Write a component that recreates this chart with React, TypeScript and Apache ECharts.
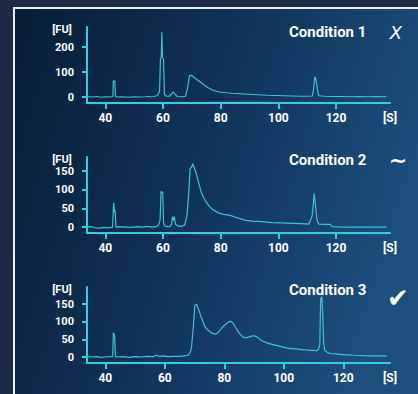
import React, { useEffect, useRef } from "react";
import * as echarts from "echarts";

// ---- Data (time in seconds, fluorescence units) ----
const cond1Time = [33.8, 35.5, 37, 38.5, 40, 41.5, 42.6, 42.8, 43.3, 43.5, 44.5, 46, 48, 50, 52, 54, 54.5, 55.5, 57, 58, 58.8, 59.1, 59.4, 59.6, 59.8, 60.2, 60.5, 61.2, 62.2, 63.0, 63.6, 64.2, 65, 66.5, 67.8, 68.5, 69.2, 69.8, 70.4, 71.5, 72.7, 74, 75.5, 77.3, 79.6, 82, 84, 87, 90, 93, 96, 99, 102, 105, 108, 110.5, 111.8, 112.2, 112.6, 112.9, 113.2, 113.6, 114, 116, 119, 122, 125, 128, 131, 134, 137.5];
const cond1FU = [1, 0, 2, -1, 1, 0, 2, 65, 64, 2, 0, 1, -1, 1, 0, 1, 3, 0, 2, 6, 22, 150, 160, 259, 160, 150, 10, 3, 3, 12, 21, 10, 2, 1, 3, 35, 86, 87, 82, 72, 62, 50, 38, 27, 20, 17, 15, 13, 11, 9, 7, 6, 5, 4, 3, 3, 4, 30, 81, 75, 60, 25, 5, 3, 2, 2, 1, 2, 1, 2, 1];

const cond2Time = [33.7, 35, 36.5, 38, 39.5, 41, 42.5, 42.9, 43.2, 43.4, 43.7, 45, 47, 49, 51, 53, 54.5, 56, 57.5, 58.5, 59.0, 59.3, 59.9, 60.2, 60.6, 61.5, 62.5, 63.0, 63.3, 63.6, 63.9, 64.3, 65, 66.5, 67.5, 68.3, 69.0, 69.4, 69.9, 70.3, 70.9, 71.5, 72.1, 73.2, 74.0, 74.9, 76, 77.2, 78.3, 79.5, 81, 83, 84.2, 85.3, 87, 88.7, 91, 93.3, 96, 97.9, 101, 104.8, 108, 110.6, 111.7, 112.1, 112.4, 112.7, 112.9, 113.4, 114, 116, 118, 118.6, 122, 126, 130, 134, 137.6];
const cond2FU = [0, 1, -2, -3, -1, -2, 0, 65, 40, 45, 0, 1, 0, -1, 1, 0, 2, 0, 1, 6, 19, 95, 93, 10, 3, 1, 2, 8, 28, 18, 28, 8, 3, 2, 5, 30, 99, 157, 160, 170, 157, 145, 126, 95, 80, 68, 56, 47, 42, 37, 34, 32, 29, 26, 22, 18, 16, 15, 13, 12, 11, 10, 9, 8, 30, 60, 90, 70, 54, 19, 8, 7, 7, 1, 0, 0, 0, 0, 0];

const cond3Time = [33.8, 35.5, 37, 38.5, 40, 41.5, 42.5, 42.7, 43.1, 43.4, 44.5, 46, 48, 50, 52, 54, 56, 57.3, 58, 59.5, 61, 63, 65, 66.5, 67.9, 68.6, 69.0, 69.6, 70.1, 70.7, 71.2, 71.8, 72.6, 73.5, 74.3, 75.2, 76.0, 76.9, 77.7, 78.5, 79.3, 80.2, 81.0, 81.9, 82.5, 83.0, 83.8, 84.7, 85.5, 86.4, 87.5, 88.6, 89.5, 90.3, 91.2, 92, 93, 94.2, 96, 97.6, 99.3, 101, 102.7, 104.3, 106, 107.7, 109.4, 111, 111.7, 112.1, 112.4, 112.8, 113.1, 113.4, 113.8, 114.5, 115.5, 117.5, 120, 123.4, 127, 131, 134.6];
const cond3FU = [1, 0, 1, -1, 0, 1, 2, 69, 62, 2, 0, 1, -1, 1, 0, 2, 1, 5, 2, 3, 1, 2, 2, 3, 5, 15, 29, 86, 147, 150, 138, 124, 105, 86, 78, 72, 67, 65, 68, 76, 84, 91, 97, 102, 100, 95, 84, 72, 63, 56, 55, 58, 60, 60, 56, 50, 45, 41, 36, 33, 29, 26, 24, 23, 21, 20, 19, 18, 22, 36, 166, 171, 120, 39, 18, 14, 10, 9, 7, 5, 4, 3, 3];

const xTicks = [40, 60, 80, 100, 120];
const yTicks1 = [0, 100, 200];
const yTicks23 = [0, 50, 100, 150];
const titles = ["Condition 1", "Condition 2", "Condition 3"];
const marks = ["X", "~", "✔"];
const yUnit = "[FU]";
const xUnit = "[S]";

const AXIS = "#33cfe0";
const LINE = "#3fc3d2";
const FONT = "Roboto, 'Noto Sans', sans-serif";

export default function App() {
  const ref = useRef<HTMLDivElement>(null);
  useEffect(() => {
    if (!ref.current) return;
    const chart = echarts.init(ref.current, undefined, { renderer: "svg" });

    const grids = [
      { left: 87, right: 28, top: 27, height: 76 },
      { left: 87, right: 28, top: 157, height: 76 },
      { left: 87, right: 28, top: 287, height: 76 },
    ];
    const xRanges = [
      [33.65, 138.7],
      [33.65, 138.7],
      [33.85, 135.7],
    ];
    const yRanges = [
      [-24, 280, yTicks1],
      [-16, 188, yTicks23],
      [-17, 199, yTicks23],
    ] as const;

    const xAxes = grids.map((_, i) => ({
      type: "value",
      gridIndex: i,
      min: xRanges[i][0],
      max: xRanges[i][1],
      axisLine: { show: true, onZero: false, lineStyle: { color: AXIS, width: 2 } },
      axisTick: { show: true, customValues: xTicks, length: 6, lineStyle: { color: AXIS, width: 2 } },
      axisLabel: {
        customValues: xTicks,
        color: "#ffffff",
        fontFamily: FONT,
        fontWeight: "bold",
        fontSize: 12,
        margin: 9,
      },
      splitLine: { show: false },
    }));
    const yAxes = grids.map((_, i) => ({
      type: "value",
      gridIndex: i,
      min: yRanges[i][0],
      max: yRanges[i][1],
      axisLine: { show: true, onZero: false, lineStyle: { color: AXIS, width: 2 } },
      axisTick: { show: true, customValues: yRanges[i][2] as any, length: 5, lineStyle: { color: AXIS, width: 2 } },
      axisLabel: {
        customValues: yRanges[i][2] as any,
        color: "#ffffff",
        fontFamily: FONT,
        fontWeight: "bold",
        fontSize: 11,
        margin: 13,
      },
      splitLine: { show: false },
    }));

    const datasets = [
      [cond1Time, cond1FU],
      [cond2Time, cond2FU],
      [cond3Time, cond3FU],
    ];
    const series = datasets.map(([t, v], i) => ({
      type: "line",
      xAxisIndex: i,
      yAxisIndex: i,
      data: t.map((x, k) => [x, v[k]]),
      showSymbol: false,
      symbol: "none",
      lineStyle: { color: LINE, width: 1.2 },
      z: 3,
    }));

    const panelOffsets = [0, 130, 260];
    const texts: any[] = [];
    panelOffsets.forEach((dy, i) => {
      texts.push({
        type: "text",
        x: 62,
        y: 29 + dy,
        style: { text: yUnit, fill: "#fff", font: `bold 11px ${FONT}`, textAlign: "center", textVerticalAlign: "middle" },
      });
      texts.push({
        type: "text",
        x: 390,
        y: 118 + dy,
        style: { text: xUnit, fill: "#fff", font: `bold 12px ${FONT}`, textAlign: "center", textVerticalAlign: "middle" },
      });
      texts.push({
        type: "text",
        x: 289,
        y: 32 + dy - (i === 1 ? 2 : 0) - (i === 2 ? 2 : 0),
        style: { text: titles[i], fill: "#fff", font: `bold 15px ${FONT}`, textAlign: "left", textVerticalAlign: "middle" },
      });
    });
    texts.push({
      type: "text",
      x: 396,
      y: 32,
      style: { text: marks[0], fill: "#fff", font: `italic 18px 'DejaVu Sans', sans-serif`, textAlign: "center", textVerticalAlign: "middle" },
    });
    texts.push({
      type: "text",
      x: 398,
      y: 160,
      style: { text: marks[1], fill: "#fff", font: `bold 22px 'DejaVu Sans', sans-serif`, textAlign: "center", textVerticalAlign: "middle" },
    });
    texts.push({
      type: "text",
      x: 398,
      y: 298,
      style: { text: marks[2], fill: "#fff", font: `26px 'DejaVu Sans', sans-serif`, textAlign: "center", textVerticalAlign: "middle" },
    });

    chart.setOption({
      animation: false,
      backgroundColor: "#1c2b43",
      graphic: [
        {
          type: "rect",
          z: -10,
          shape: { x: 14, y: 8, width: 420, height: 400 },
          style: {
            fill: new echarts.graphic.LinearGradient(0, 0, 1, 0.3, [
              { offset: 0, color: "#081d35" },
              { offset: 0.5, color: "#103258" },
              { offset: 1, color: "#1d4e7e" },
            ]),
            stroke: "#e8eef4",
            lineWidth: 2,
          },
        },
        ...texts,
      ],
      grid: grids,
      xAxis: xAxes,
      yAxis: yAxes,
      series,
    } as any);

    return () => chart.dispose();
  }, []);
  return <div ref={ref} style={{ position: "absolute", left: 0, top: 0, width: 418, height: 394 }} />;
}
